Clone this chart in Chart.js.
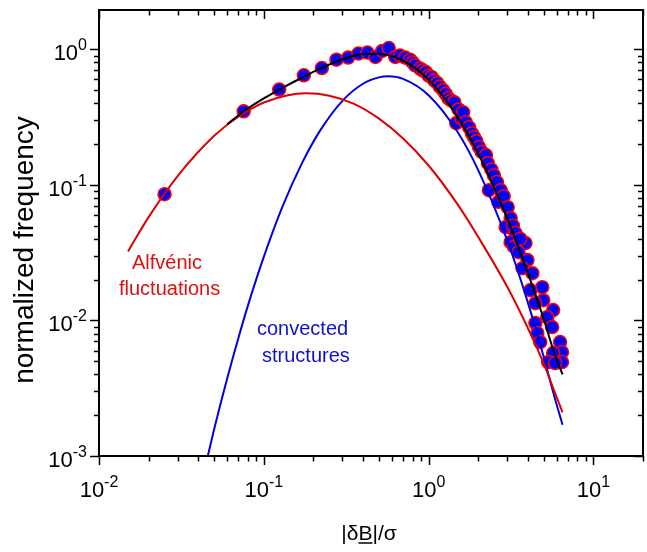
<!DOCTYPE html>
<html><head><meta charset="utf-8">
<script src="https://cdn.jsdelivr.net/npm/chart.js@4/dist/chart.umd.min.js"></script>
<style>html,body{margin:0;padding:0;background:#fff;overflow:hidden;}#wrap{width:651px;height:552px;}</style>
</head><body><div id="wrap"><canvas id="c" width="651" height="552"></canvas></div>
<script>
// measured data points (|dB|/sigma, normalized frequency)
const pointsX = [0.0250,0.0755,0.124,0.175,0.225,0.276,0.325,0.375,0.425,0.476,0.523,0.573,0.628,0.67,0.721,0.772,0.80,0.828,0.887,0.92,0.963,1.00,1.042,1.08,1.127,1.17,1.225,1.27,1.318,1.37,1.432,1.472,1.52,1.58,1.622,1.68,1.762,1.83,1.888,1.95,2.023,2.10,2.228,2.29,2.40,2.489,2.323,2.60,2.65,2.741,2.857,3.02,3.147,2.937,3.25,3.372,3.147,3.30,3.872,3.515,3.60,3.98,3.715,4.265,4.897,4.15,4.966,4.446,5.70,5.25,4.446,5.62,4.57,4.76,6.28,6.45,5.70,5.32,6.45,5.86];
const pointsY = [0.0854,0.349,0.505,0.643,0.728,0.839,0.869,0.930,0.946,0.878,0.972,1.022,0.878,0.900,0.869,0.839,0.800,0.762,0.721,0.700,0.680,0.640,0.625,0.590,0.565,0.530,0.499,0.470,0.435,0.420,0.407,0.285,0.360,0.310,0.343,0.290,0.266,0.240,0.225,0.210,0.190,0.175,0.166,0.1445,0.130,0.118,0.0914,0.105,0.075,0.0914,0.0826,0.0685,0.0569,0.0488,0.050,0.0441,0.0378,0.035,0.0372,0.0319,0.040,0.0279,0.0243,0.0223,0.0176,0.01675,0.0141,0.0134,0.01193,0.0106,0.00957,0.00894,0.00807,0.00693,0.00693,0.00585,0.00575,0.00493,0.00493,0.00485];
// Alfvénic fluctuations (red curve)
const alfvenX = [0.015,0.02,0.03,0.05,0.07,0.1,0.14,0.18,0.25,0.35,0.5,0.7,1,1.5,2,3,4,5,5.8,6.5];
const alfvenY = [0.0323,0.0578,0.116,0.230,0.318,0.405,0.459,0.474,0.455,0.397,0.308,0.220,0.139,0.0718,0.0413,0.0177,0.0088,0.0048,0.0030,0.0021];
// convected structures (blue curve)
const convX = [0.044,0.05,0.06,0.07,0.08,0.1,0.13,0.17,0.22,0.3,0.4,0.5,0.57,0.7,1,1.5,2,3,4,5,5.8,6.5];
const convY = [0.00082,0.00158,0.00374,0.00736,0.0128,0.0294,0.0693,0.1436,0.2525,0.417,0.557,0.621,0.632,0.606,0.459,0.2455,0.1285,0.0389,0.0136,0.00536,0.00274,0.0017];
// total fit (black curve)
const totalX = [0.06,0.07,0.08,0.1,0.13,0.17,0.22,0.3,0.4,0.5,0.57,0.7,1,1.5,2,3,4,5,5.8,6.5];
const totalY = [0.281,0.325,0.366,0.434,0.520,0.617,0.720,0.845,0.923,0.929,0.906,0.826,0.598,0.317,0.170,0.0566,0.0224,0.0102,0.0057,0.0040];
// axis ticks
const xTickValues = [0.01,0.1,1,10];
const xTickExp = ['-2','-1','0','1'];
const yTickValues = [0.001,0.01,0.1,1];
const yTickExp = ['-3','-2','-1','0'];
const minorMult = [2,3,4,5,6,7,8,9];

const FONT = '"Liberation Sans", Arial, Helvetica, sans-serif';
const zip = (xs, ys) => xs.map((x, i) => ({x, y: ys[i]}));

const axesPlugin = {
  id: 'axesPlugin',
  afterDraw(chart) {
    const {ctx, chartArea: a, scales: {x, y}} = chart;
    ctx.save();
    ctx.strokeStyle = '#000';
    ctx.fillStyle = '#000';
    // ticks
    ctx.lineWidth = 1.5;
    const xs = [];
    xTickValues.forEach(v => { xs.push([v, true]); minorMult.forEach(m => xs.push([v * m, false])); });
    xs.forEach(([v, major]) => {
      if (v < x.min * 0.999 || v > x.max * 1.001) return;
      const px = Math.round(x.getPixelForValue(v)) + 0.5;
      const len = major ? 9 : 5.5;
      ctx.beginPath();
      ctx.moveTo(px, a.bottom); ctx.lineTo(px, a.bottom + len);
      ctx.moveTo(px, a.top); ctx.lineTo(px, a.top + len);
      ctx.stroke();
    });
    const ys = [];
    yTickValues.forEach(v => { ys.push([v, true]); minorMult.forEach(m => ys.push([v * m, false])); });
    ys.forEach(([v, major]) => {
      if (v < y.min * 0.999 || v > y.max * 1.001) return;
      const py = Math.round(y.getPixelForValue(v)) + 0.5;
      const len = major ? 9 : 5;
      ctx.beginPath();
      ctx.moveTo(a.left - len, py); ctx.lineTo(a.left, py);
      ctx.moveTo(a.right - len, py); ctx.lineTo(a.right, py);
      ctx.stroke();
    });
    // frame
    ctx.lineWidth = 2;
    ctx.strokeRect(a.left, a.top, a.right - a.left, a.bottom - a.top);

    // tick labels
    const baseF = '22px ' + FONT, supF = '16px ' + FONT;
    ctx.textBaseline = 'alphabetic';
    ctx.textAlign = 'left';
    xTickValues.forEach((v, i) => {
      const px = x.getPixelForValue(v);
      ctx.font = baseF; const w1 = ctx.measureText('10').width;
      ctx.font = supF; const w2 = ctx.measureText(xTickExp[i]).width;
      const start = px - (w1 + w2) / 2;
      ctx.font = baseF; ctx.fillText('10', start, a.bottom + 41);
      ctx.font = supF; ctx.fillText(xTickExp[i], start + w1, a.bottom + 30.5);
    });
    yTickValues.forEach((v, i) => {
      const py = y.getPixelForValue(v);
      const right = 87;
      ctx.font = supF; const w2 = ctx.measureText(yTickExp[i]).width;
      ctx.font = baseF; const w1 = ctx.measureText('10').width;
      ctx.fillText('10', right - w2 - w1, py + 10.7);
      ctx.font = supF; ctx.fillText(yTickExp[i], right - w2, py + 0.8);
    });

    // axis titles
    ctx.font = '28px ' + FONT;
    ctx.save();
    ctx.translate(33, 250);
    ctx.rotate(-Math.PI / 2);
    ctx.textAlign = 'center';
    ctx.fillText('normalized frequency', 0, 0);
    ctx.restore();

    ctx.font = '21px ' + FONT;
    const p1 = '|δ', p2 = 'B', p3 = '|/σ';
    const w1 = ctx.measureText(p1).width, w2 = ctx.measureText(p2).width, w3 = ctx.measureText(p3).width;
    const cx = (a.left + a.right) / 2 - 2;
    let sx = cx - (w1 + w2 + w3) / 2;
    const by = 540;
    ctx.textAlign = 'left';
    ctx.fillText(p1, sx, by);
    ctx.fillText(p2, sx + w1, by);
    ctx.fillText(p3, sx + w1 + w2, by);
    ctx.lineWidth = 1.5;
    ctx.beginPath();
    ctx.moveTo(sx + w1, by + 3); ctx.lineTo(sx + w1 + w2, by + 3);
    ctx.stroke();

    // annotations
    ctx.font = '20px ' + FONT;
    ctx.fillStyle = '#dd1111';
    ctx.fillText('Alfvénic', 132, 269);
    ctx.fillText('fluctuations', 119, 295);
    ctx.fillStyle = '#1111cc';
    ctx.fillText('convected', 257, 335);
    ctx.fillText('structures', 262, 362);
    ctx.restore();
  }
};

new Chart(document.getElementById('c'), {
  type: 'scatter',
  data: {
    datasets: [
      {label: 'total', data: zip(totalX, totalY), showLine: true, borderColor: '#000000', borderWidth: 2, pointRadius: 0, cubicInterpolationMode: 'monotone', fill: false},
      {label: 'Alfvénic fluctuations', data: zip(alfvenX, alfvenY), showLine: true, borderColor: '#e00000', borderWidth: 2, pointRadius: 0, cubicInterpolationMode: 'monotone', fill: false},
      {label: 'convected structures', data: zip(convX, convY), showLine: true, borderColor: '#0000e0', borderWidth: 2, pointRadius: 0, cubicInterpolationMode: 'monotone', fill: false},
      {label: 'data', data: zip(pointsX, pointsY), showLine: false, pointRadius: 6.5, pointBackgroundColor: '#0000ff', pointBorderColor: '#ff0000', pointBorderWidth: 1.5}
    ]
  },
  options: {
    responsive: false,
    animation: false,
    devicePixelRatio: 1,
    layout: {padding: {left: 99, top: 10, right: 2, bottom: 96}},
    plugins: {legend: {display: false}, tooltip: {enabled: false}},
    scales: {
      x: {type: 'logarithmic', min: 0.01, max: 20, display: false},
      y: {type: 'logarithmic', min: 0.001, max: 1.95, display: false}
    }
  },
  plugins: [axesPlugin]
});
</script>
</body></html>
